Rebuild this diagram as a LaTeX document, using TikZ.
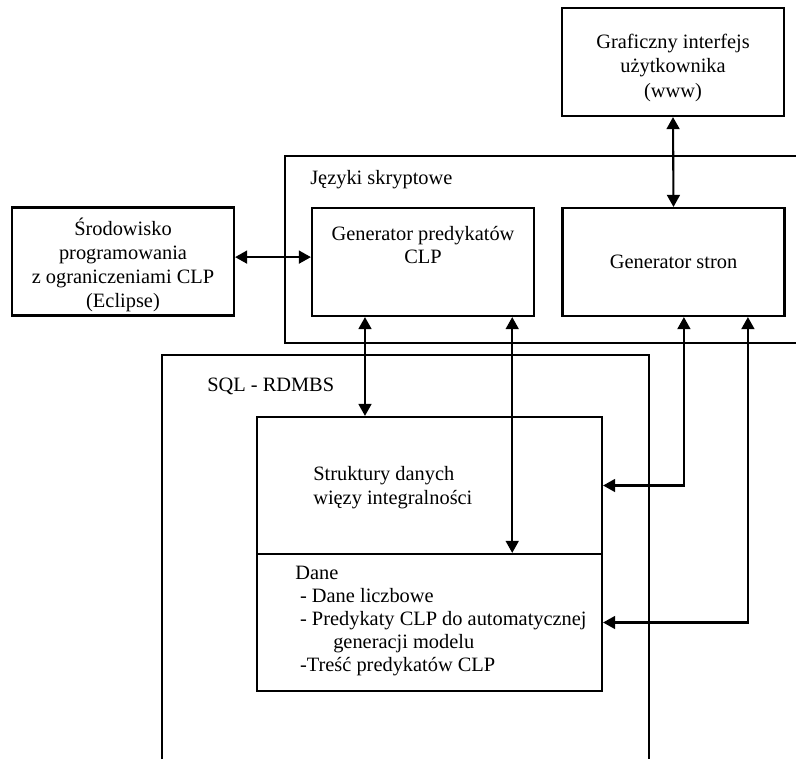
\documentclass[tikz,border=0pt]{standalone}
\usepackage{fontspec}
\setmainfont{Liberation Serif}
\usetikzlibrary{positioning, arrows.meta}

\tikzset{
  box/.style={rectangle, draw, line width=1.5pt, minimum width=5.55cm, minimum height=2.7cm, align=center, inner sep=0pt},
  frame/.style={line width=1.5pt},
  link/.style={line width=1.5pt, {Triangle[length=0.3cm,width=0.32cm]}-{Triangle[length=0.3cm,width=0.32cm]}},
  txt/.style={align=left, inner sep=0pt}
}

\begin{document}
\begin{tikzpicture}[x=0.025cm, y=-0.025cm, font=\fontsize{14.5}{17}\selectfont]

\useasboundingbox (0,0) rectangle (796,759);

% ramki
\draw[frame] (796,156) -- (285,156) -- (285,343) -- (796,343);
\draw[frame] (162,759) -- (162,355) -- (649,355) -- (649,759);
\node[txt, anchor=west] (jezyki) at (310,180) {Języki skryptowe};
\node[txt, anchor=west] (sql) at (207,386) {SQL - RDMBS};

\node[box] (gui) at (673,62) {};
\node[txt, align=center, font=\fontsize{14.5}{17.5}\selectfont] (guitxt) at ([yshift=-0.14cm]gui.center) {Graficzny interfejs\\użytkownika\\(www)};
\node[box] (genstron) at (673.5,262) {Generator stron};
\node[box] (genpred) at (423,262) {};
\node[txt, align=center, anchor=north, font=\fontsize{14.5}{16}\selectfont] (genpredtxt) at ([yshift=-0.48cm]genpred.north) {Generator predykatów\\CLP};
\node[box] (srod) at (123,261.5) {};
\node[txt, align=center] (srodtxt) at ([yshift=-0.08cm]srod.center) {Środowisko\\programowania\\z ograniczeniami CLP\\(Eclipse)};

\node[box, minimum width=8.625cm, minimum height=3.425cm] (struk) at (429.5,485.5) {};
\node[box, minimum width=8.625cm, minimum height=3.425cm] (dane) at (429.5,622.5) {};
\node[txt, anchor=west] (struktxt) at (313,488) {Struktury danych\\więzy integralności};
\node[txt, anchor=west, font=\fontsize{14.5}{16.2}\selectfont] (danetxt) at (295,621) {Dane\\
 \hspace*{0.12cm}- Dane liczbowe\\
 \hspace*{0.12cm}- Predykaty CLP do automatycznej\\
 \hspace*{0.95cm}generacji modelu\\
 \hspace*{0.12cm}-Treść predykatów CLP};

% polaczenia
\draw[link] (gui.south) -- (genstron.north);
\draw[link] ([yshift=0.11cm]srod.east) -- ([yshift=0.11cm]srod.east -| genpred.west);
\draw[link] ([xshift=-1.45cm]genpred.south) -- ([xshift=-1.45cm]genpred.south |- struk.north);
\draw[link] ([xshift=2.23cm]genpred.south) -- ([xshift=2.23cm]genpred.south |- dane.north);
\draw[link] (struk.east) -| ([xshift=0.26cm]genstron.south);
\draw[link] (dane.east) -| ([xshift=1.86cm]genstron.south);

\end{tikzpicture}
\end{document}
